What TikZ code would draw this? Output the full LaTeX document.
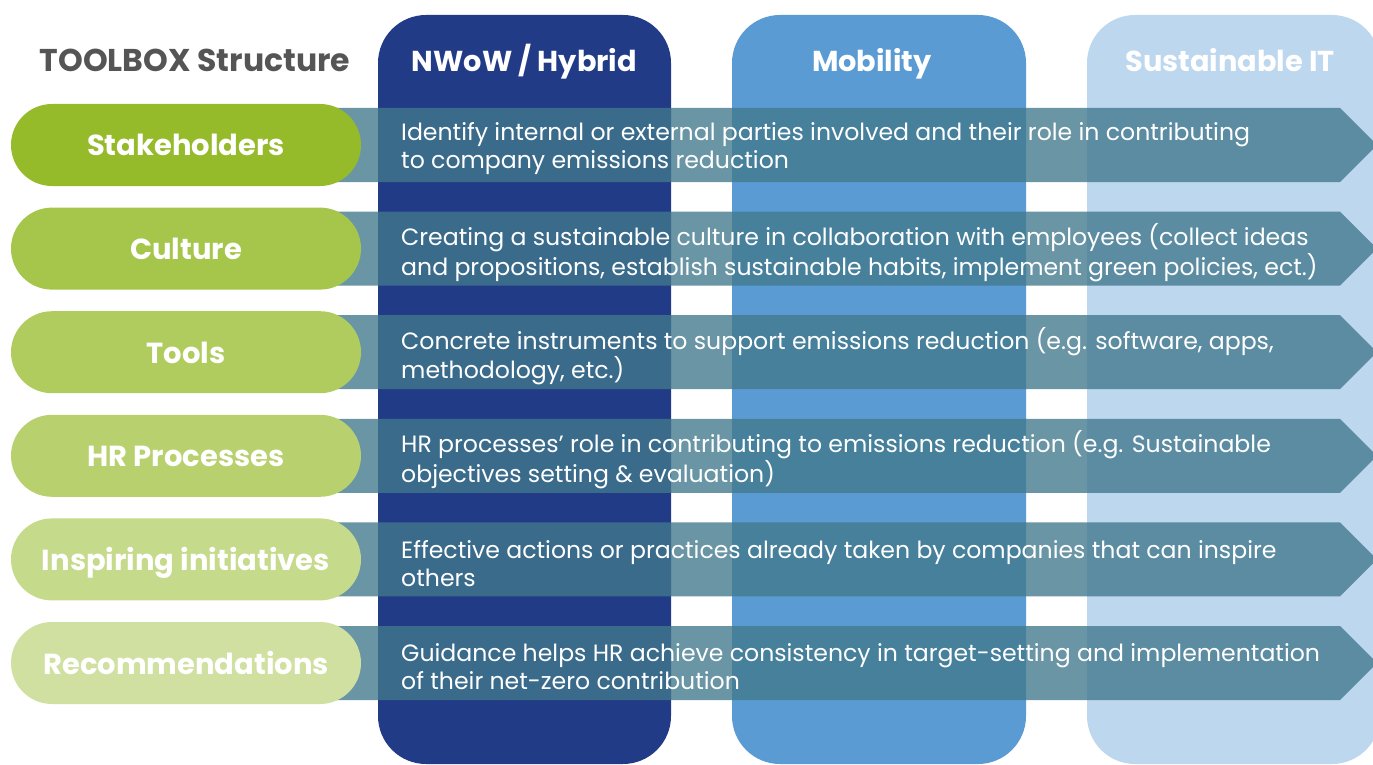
\documentclass[tikz,border=0pt]{standalone}
\usepackage{fontspec}
\setmainfont{Poppins}
\begin{document}
\begin{tikzpicture}[x=1pt,y=-1pt,
  column/.style={rounded corners=48pt},
  band/.style={fill=bandteal,fill opacity=0.79},
  pill/.style={rounded corners=41pt},
  pilltext/.style={text=white,anchor=base,font=\bfseries\fontsize{29}{34}\selectfont},
  coltitle/.style={text=white,anchor=base,font=\bfseries\fontsize{28.8}{34}\selectfont},
  desc/.style={text=white,anchor=west,align=left,inner sep=0pt,
    font=\fontsize{23.6}{28}\selectfont}]
\definecolor{bandteal}{HTML}{41798D}
\definecolor{nwow}{HTML}{213B87}
\definecolor{mobil}{HTML}{5B9BD3}
\definecolor{susit}{HTML}{BDD7EE}
\definecolor{headgray}{HTML}{555555}
\definecolor{gA}{HTML}{95BA2A}
\definecolor{gB}{HTML}{A5C64A}
\definecolor{gC}{HTML}{B0CC5F}
\definecolor{gD}{HTML}{B9D06E}
\definecolor{gE}{HTML}{C5DA8A}
\definecolor{gF}{HTML}{CFE0A0}
\useasboundingbox (0,0) rectangle (1373,765);
\begin{scope}
\clip (0,0) rectangle (1373,765);
% theme columns
\fill[nwow,column] (378,15) rectangle (671,764);
\fill[mobil,column] (732,15) rectangle (1026,764);
\fill[susit,column] (1087,15) rectangle (1380,764);
% header titles
\node[text=headgray,anchor=base,font=\bfseries\fontsize{31.5}{36}\selectfont] (head) at (195,72) {TOOLBOX Structure};
\node[coltitle] (t1) at (524.5,72) {NWoW / Hybrid};
\node[coltitle] (t2) at (872,72) {Mobility};
\node[coltitle] (t3) at (1230,72) {Sustainable IT};
% arrow bands and pills
\foreach \i/\c/\lab/\txt in {
  0/gA/Stakeholders/{Identify internal or external parties involved and their role in contributing\\to company emissions reduction},
  1/gB/Culture/{Creating a sustainable culture in collaboration with employees (collect ideas\\and propositions, establish sustainable habits, implement green policies, ect.)},
  2/gC/Tools/{Concrete instruments to support emissions reduction (e.g. software, apps,\\methodology, etc.)},
  3/gD/HR Processes/{HR processes’ role in contributing to emissions reduction (e.g. Sustainable\\objectives setting \& evaluation)},
  4/gE/Inspiring initiatives/{Effective actions or practices already taken by companies that can inspire\\others},
  5/gF/Recommendations/{Guidance helps HR achieve consistency in target-setting and implementation\\of their net-zero contribution}}{
  \pgfmathsetmacro{\cy}{145+103.6*\i}
  \fill[band] (330,\cy-37) -- (1340,\cy-37) -- (1377,\cy) -- (1340,\cy+37) -- (330,\cy+37) -- cycle;
  \fill[\c,pill] (11,\cy-41) rectangle (361,\cy+41);
  \node[pilltext] (p\i) at (186,\cy+11) {\lab};
  \node[desc] (d\i) at (401,\cy+4) {\txt};
}
\end{scope}
\end{tikzpicture}
\end{document}
